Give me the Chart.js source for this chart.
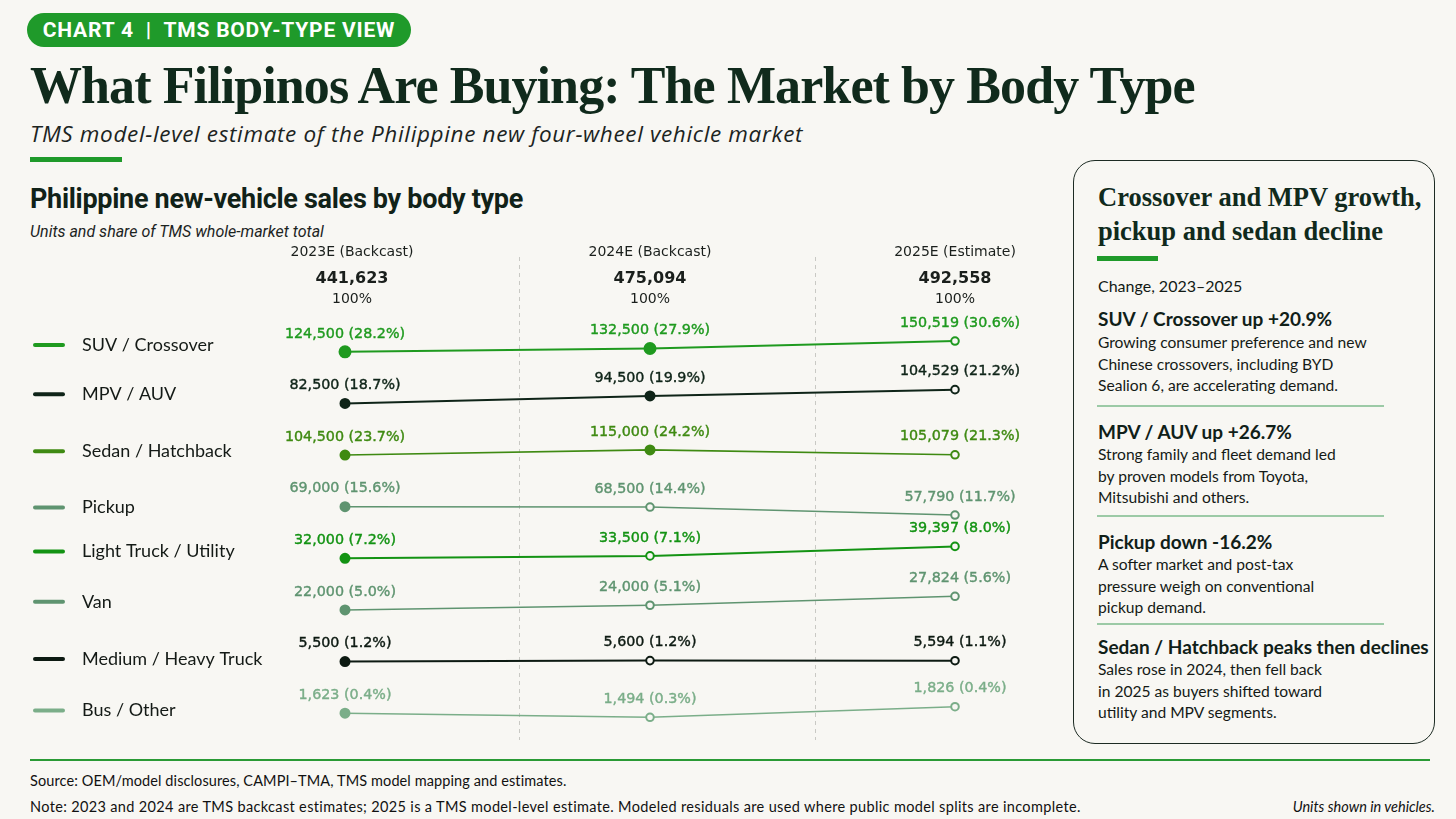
<!DOCTYPE html>
<html>
<head>
<meta charset="utf-8">
<script src="https://cdn.jsdelivr.net/npm/chart.js@4.4.1/dist/chart.umd.min.js"></script>
<style>
  html, body { margin: 0; padding: 0; }
  body { width: 1456px; height: 819px; background: #f8f7f3; position: relative; overflow: hidden; color: #121a15; }
  .abs { position: absolute; white-space: nowrap; line-height: 1; }
  .pill { left: 27px; top: 13px; width: 384px; height: 34px; border-radius: 17px; background: #1f9a2a; color: #fff;
          font: 700 21px Roboto, sans-serif; display: flex; align-items: center; justify-content: center; letter-spacing: 0.8px; }
  .title { left: 30px; top: 56px; font: 700 52px "Liberation Serif", serif; color: #102a1c; letter-spacing: -0.9px; }
  .subtitle { left: 30px; top: 118px; font: italic 400 22.5px "Open Sans", sans-serif; color: #1c241f; letter-spacing: 0.65px; }
  .bar { height: 5px; background: #1f9a2a; }
  .sectitle { left: 30px; top: 183px; font: 700 27px Roboto, sans-serif; color: #112218; letter-spacing: -0.3px; }
  .secsub { left: 30px; top: 222px; font: italic 400 16px Roboto, sans-serif; color: #1c241f; }
  .box { left: 1073px; top: 160px; width: 362px; height: 584px; border: 1.5px solid #1d2b23; border-radius: 22px; box-sizing: border-box; }
  .boxtitle { left: 1098px; top: 180px; font: 700 26.5px "Liberation Serif", serif; color: #102a1c; line-height: 34px; }
  .lato { font-family: Lato, sans-serif; color: #121a15; }
  .bh { font: 700 19px Lato, sans-serif; color: #102018; left: 1098px; }
  .bt { font: 400 15.6px Lato, sans-serif; line-height: 21.5px; left: 1098px; color: #141a16; }
  .rule { left: 1097px; width: 287px; height: 2px; background: #9ccaa6; }
  .foot { font: 400 14.5px Lato, sans-serif; color: #111; }
  #wrap { position: absolute; left: 0; top: 240px; width: 1060px; height: 510px; }
</style>
</head>
<body>
<div class="abs pill">CHART 4 &nbsp;|&nbsp; TMS BODY-TYPE VIEW</div>
<div class="abs title">What Filipinos Are Buying: The Market by Body Type</div>
<div class="abs subtitle">TMS model-level estimate of the Philippine new four-wheel vehicle market</div>
<div class="abs bar" style="left:30px; top:157px; width:92px;"></div>
<div class="abs sectitle">Philippine new-vehicle sales by body type</div>
<div class="abs secsub">Units and share of TMS whole-market total</div>

<div id="wrap"><canvas id="slope"></canvas></div>

<div class="abs box"></div>
<div class="abs boxtitle">Crossover and MPV growth,<br>pickup and sedan decline</div>
<div class="abs bar" style="left:1097px; top:256px; width:61px;"></div>
<div class="abs lato" style="left:1098px; top:278px; font-size:16px;">Change, 2023–2025</div>
<div class="abs bh" style="top:307px;">SUV / Crossover up +20.9%</div>
<div class="abs bt" style="top:332px;">Growing consumer preference and new<br>Chinese crossovers, including BYD<br>Sealion 6, are accelerating demand.</div>
<div class="abs rule" style="top:405px;"></div>
<div class="abs bh" style="top:420px;">MPV / AUV up +26.7%</div>
<div class="abs bt" style="top:444px;">Strong family and fleet demand led<br>by proven models from Toyota,<br>Mitsubishi and others.</div>
<div class="abs rule" style="top:515px;"></div>
<div class="abs bh" style="top:530px;">Pickup down -16.2%</div>
<div class="abs bt" style="top:554px;">A softer market and post-tax<br>pressure weigh on conventional<br>pickup demand.</div>
<div class="abs rule" style="top:623px;"></div>
<div class="abs bh" style="top:635px;">Sedan / Hatchback peaks then declines</div>
<div class="abs bt" style="top:659px;">Sales rose in 2024, then fell back<br>in 2025 as buyers shifted toward<br>utility and MPV segments.</div>

<div class="abs" style="left:30px; top:759px; width:1400px; height:2px; background:#2a9a35;"></div>
<div class="abs foot" style="left:30px; top:772px; letter-spacing:0.1px;">Source: OEM/model disclosures, CAMPI–TMA, TMS model mapping and estimates.</div>
<div class="abs foot" style="left:30px; top:798px; letter-spacing:0.35px;">Note: 2023 and 2024 are TMS backcast estimates; 2025 is a TMS model-level estimate. Modeled residuals are used where public model splits are incomplete.</div>
<div class="abs foot" style="right:21px; top:798px; font-style:italic;">Units shown in vehicles.</div>

<script>
  // column headers and totals
  const years = ['2023E (Backcast)', '2024E (Backcast)', '2025E (Estimate)'];
  const totals = [441623, 475094, 492558];

  // body types, top to bottom
  const bodyTypes = ['SUV / Crossover', 'MPV / AUV', 'Sedan / Hatchback', 'Pickup',
                     'Light Truck / Utility', 'Van', 'Medium / Heavy Truck', 'Bus / Other'];

  // units per year (2023E, 2024E, 2025E)
  const suvCrossover = [124500, 132500, 150519];
  const mpvAuv = [82500, 94500, 104529];
  const sedanHatchback = [104500, 115000, 105079];
  const pickup = [69000, 68500, 57790];
  const lightTruck = [32000, 33500, 39397];
  const van = [22000, 24000, 27824];
  const mediumHeavyTruck = [5500, 5600, 5594];
  const busOther = [1623, 1494, 1826];

  const series = [suvCrossover, mpvAuv, sedanHatchback, pickup, lightTruck, van, mediumHeavyTruck, busOther];

  const colors = ['#1f9a1f', '#0f2418', '#3f8a12', '#5f9470', '#139313', '#5f9470', '#0d1a12', '#7bae89'];
  const lineWidths = [2, 2, 1.6, 1.6, 2, 1.6, 2, 1.6];
  const bg = '#f8f7f3';
  const slope = 1; // rows moved per 100% change vs 2023

  const datasets = series.map((vals, i) => ({
    label: bodyTypes[i],
    data: vals.map((v, j) => ({ x: j, y: i - slope * (v / vals[0] - 1), v: v })),
    borderColor: colors[i],
    borderWidth: lineWidths[i],
    pointBorderColor: colors[i],
    pointBorderWidth: 2,
    pointBackgroundColor: vals.map((v, j) => (j === 0 || (j === 1 && i < 3)) ? colors[i] : bg),
    pointRadius: vals.map((v, j) => (j === 0 || (j === 1 && i < 3)) ? (i === 0 ? 5.5 : 4.5) : 3.8),
    tension: 0,
    clip: false
  }));

  const fmt = n => n.toLocaleString('en-US');

  const slopeDecor = {
    id: 'slopeDecor',
    beforeDatasetsDraw(chart) {
      const { ctx, scales: { x } } = chart;
      ctx.save();
      ctx.strokeStyle = '#c9c9c4';
      ctx.lineWidth = 1;
      ctx.setLineDash([4, 4]);
      [0.57, 1.54].forEach(m => {
        const px = Math.round(x.getPixelForValue(m)) + 0.5;
        ctx.beginPath();
        ctx.moveTo(px, 17);
        ctx.lineTo(px, 500);
        ctx.stroke();
      });
      ctx.restore();
    },
    afterDatasetsDraw(chart) {
      const { ctx, scales: { x } } = chart;
      ctx.save();
      ctx.textAlign = 'center';
      ctx.textBaseline = 'middle';
      // column headers
      years.forEach((yr, j) => {
        const px = x.getPixelForValue(j) + (j === 0 ? 7 : 0);
        ctx.fillStyle = '#1a1f1c';
        ctx.font = '14px "DejaVu Sans"';
        ctx.fillText(yr, px, 12);
        ctx.font = 'bold 16px "DejaVu Sans"';
        ctx.fillText(fmt(totals[j]), px, 39);
        ctx.font = '14px "DejaVu Sans"';
        ctx.fillText('100%', px, 59);
      });
      // value labels and left legend
      chart.data.datasets.forEach((ds, i) => {
        const meta = chart.getDatasetMeta(i);
        ctx.fillStyle = colors[i];
        ctx.strokeStyle = colors[i];
        ctx.lineWidth = 0.4;
        ctx.font = '14.3px "DejaVu Sans"';
        meta.data.forEach((pt, j) => {
          const raw = ds.data[j];
          const share = (raw.v / totals[j] * 100).toFixed(1);
          const txt = fmt(raw.v) + ' (' + share + '%)';
          ctx.fillText(txt, pt.x + (j === 2 ? 5 : 0), pt.y - 18);
          ctx.strokeText(txt, pt.x + (j === 2 ? 5 : 0), pt.y - 18);
        });
        const ly = meta.data.reduce((s, p) => s + p.y, 0) / meta.data.length - 2;
        ctx.lineWidth = 4;
        ctx.lineCap = 'round';
        ctx.beginPath();
        ctx.moveTo(35, ly);
        ctx.lineTo(63, ly);
        ctx.stroke();
        ctx.textAlign = 'left';
        ctx.fillStyle = '#141a16';
        ctx.font = '18px Lato';
        ctx.fillText(bodyTypes[i], 82, ly);
        ctx.textAlign = 'center';
      });
      ctx.restore();
    }
  };

  new Chart(document.getElementById('slope'), {
    type: 'line',
    data: { datasets: datasets },
    options: {
      responsive: true,
      maintainAspectRatio: false,
      animation: false,
      layout: { padding: { left: 345, right: 105, top: 86, bottom: 11 } },
      scales: {
        x: { type: 'linear', min: 0, max: 2, display: false },
        y: { type: 'linear', min: -0.5, max: 7.5, reverse: true, display: false }
      },
      plugins: { legend: { display: false }, tooltip: { enabled: false } }
    },
    plugins: [slopeDecor]
  });
</script>
</body>
</html>
